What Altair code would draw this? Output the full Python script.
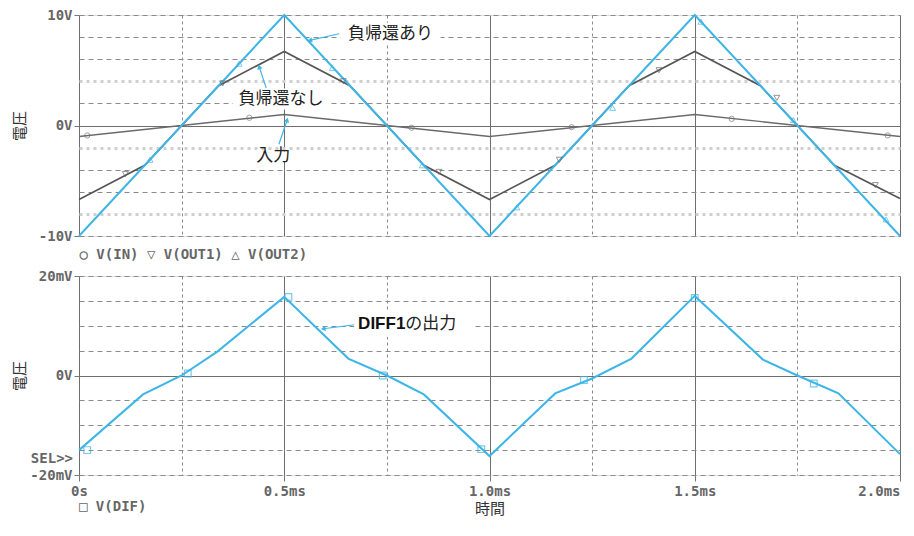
import math
import altair as alt
import pandas as pd

CYAN = "#3db5e6"
DARK = "#555555"
MONO = "DejaVu Sans Mono"
JP = "Noto Sans CJK JP"

# ---------------- data ----------------
# time in ms
t_in = [0, 0.5, 1.0, 1.5, 2.0]
v_in = [-1.0, 1.0, -1.0, 1.0, -1.0]                      # V(IN)  [V]

t_out1 = [0, 0.16, 0.34, 0.5, 0.66, 0.84, 1.0, 1.16, 1.34, 1.5, 1.66, 1.84, 2.0]
v_out1 = [-6.7, -3.6, 3.6, 6.7, 3.6, -3.6, -6.7, -3.6, 3.6, 6.7, 3.6, -3.6, -6.6]   # V(OUT1)

t_out2 = [0, 0.5, 1.0, 1.5, 2.0]
v_out2 = [-10.0, 10.0, -10.0, 10.0, -10.0]               # V(OUT2)

t_dif = [0, 0.156, 0.25, 0.337, 0.5, 0.656, 0.75, 0.84, 1.0, 1.16, 1.25, 1.346, 1.5, 1.666, 1.75, 1.85, 2.0]
v_dif = [-15.0, -3.8, 0.0, 4.8, 15.8, 3.4, 0.0, -3.8, -16.2, -3.6, -0.6, 3.4, 16.0, 3.2, 0.0, -3.6, -15.8]  # mV

# marker positions
mk_in_t = [0.02, 0.415, 0.81, 1.2, 1.59, 1.97]
mk_in_v = [-0.9, 0.7, -0.2, -0.15, 0.6, -0.9]
mk_o1_t = [0.113, 0.35, 0.644, 0.877, 1.17, 1.413, 1.70, 1.94]
mk_o1_v = [-4.4, 3.8, 4.0, -4.2, -3.1, 5.0, 2.5, -5.4]
mk_o2_t = [0.173, 0.39, 0.617, 0.836, 1.067, 1.30, 1.515, 1.74, 1.966]
mk_o2_v = [-3.1, 5.6, 5.2, -3.6, -7.4, 1.6, 9.4, 0.5, -8.5]
mk_dif_t = [0.02, 0.265, 0.51, 0.74, 0.98, 1.23, 1.5, 1.79]
mk_dif_v = [-15.0, 0.4, 15.8, 0.0, -14.8, -0.9, 15.6, -1.6]

# axis ticks
x_ticks = [0, 0.25, 0.5, 0.75, 1.0, 1.25, 1.5, 1.75, 2.0]
y_top_ticks = [-10, -8, -6, -4, -2, 0, 2, 4, 6, 8, 10]
y_bot_ticks = [-20, -15, -10, -5, 0, 5, 10, 15, 20]

# annotations (label centres and arrows, in data units)
top_labels = ["負帰還あり", "負帰還なし", "入力"]
top_label_t = [0.759, 0.492, 0.473]
top_label_v = [8.3, 2.4, -2.8]
top_label_w = [100, 96, 44]        # white box widths behind labels (px)
top_arrow_t1 = [0.634, 0.456, 0.487]
top_arrow_v1 = [8.3, 3.4, -1.7]
top_arrow_t2 = [0.562, 0.439, 0.507]
top_arrow_v2 = [7.7, 5.3, 0.5]

bot_label_t = [0.795]
bot_label_v = [10.4]
bot_box_t = [0.814]
bot_arrow_t1 = [0.672]
bot_arrow_v1 = [10.2]
bot_arrow_t2 = [0.595]
bot_arrow_v2 = [9.4]

W = 821
H_TOP = 221
H_BOT = 199
LBL = 14   # monospace label size

# ---------------- axes ----------------
grid_x_dash = {"condition": {"test": "(datum.value*4) % 2 == 1", "value": [3, 3]}, "value": []}
grid_x_color = {"condition": {"test": "(datum.value*4) % 2 == 1", "value": "#8a8a8a"}, "value": "#6e6e6e"}


def y_axis(ticks, label_expr, major, dotted):
    return alt.Axis(
        values=ticks, labelExpr=label_expr, grid=True,
        gridDash={"condition": [{"test": "datum.value == 0", "value": []},
                                {"test": "indexof(%s, datum.value) >= 0" % dotted, "value": [3, 4]}],
                  "value": [5, 4]},
        gridColor={"condition": [{"test": "datum.value == 0", "value": "#6e6e6e"},
                                 {"test": "indexof(%s, datum.value) >= 0" % dotted, "value": "#cfcfcf"}],
                   "value": "#8a8a8a"},
        gridWidth={"condition": [{"test": "indexof(%s, datum.value) >= 0" % dotted, "value": 3}],
                   "value": 1},
        tickOpacity={"condition": {"test": "datum.value %% %d != 0" % major, "value": 0}, "value": 1},
        tickSize=5, tickColor="#777", domain=False,
        labelFont=MONO, labelFontWeight="bold", labelFontSize=LBL, labelColor="#666", labelPadding=2,
        title="電圧", titleFont=JP, titleFontSize=15, titleFontWeight="normal", titleColor="#333",
        titlePadding=3, minExtent=49, maxExtent=49,
    )


x_top = alt.X("t:Q", scale=alt.Scale(domain=[0, 2], nice=False, zero=False),
              axis=alt.Axis(values=x_ticks, grid=True, gridDash=grid_x_dash, gridColor=grid_x_color,
                            labels=False, ticks=False, domain=False,
                            title="○ V(IN)   ▽ V(OUT1)   △ V(OUT2)", titleAnchor="start", titleAlign="left",
                            titleX=0, titleY=18, titleBaseline="middle", titleFont=MONO,
                            titleFontWeight="bold", titleFontSize=LBL, titleColor="#666"))
y_top = alt.Y("v:Q", scale=alt.Scale(domain=[-10, 10], nice=False),
              axis=y_axis(y_top_ticks, "datum.value % 10 == 0 ? (datum.value == 0 ? '0V' : datum.value + 'V') : ''",
                          10, "[4, -2, -8]"))

x_bot = alt.X("t:Q", scale=alt.Scale(domain=[0, 2], nice=False, zero=False),
              axis=alt.Axis(values=x_ticks, grid=True, gridDash=grid_x_dash, gridColor=grid_x_color,
                            labelExpr="(datum.value*2) % 1 != 0 ? '' : (datum.value == 0 ? '0s' : format(datum.value, '.1f') + 'ms')",
                            labelAlign={"condition": {"test": "datum.value == 2", "value": "right"}, "value": "center"},
                            labelFlush=False,
                            tickOpacity={"condition": {"test": "(datum.value*2) % 1 != 0", "value": 0}, "value": 1},
                            tickSize=6, tickColor="#777", domain=False,
                            labelFont=MONO, labelFontWeight="bold", labelFontSize=LBL, labelColor="#666",
                            labelPadding=3,
                            title="時間", titleFont=JP, titleFontSize=15, titleFontWeight="normal",
                            titleColor="#333", titlePadding=3))
y_bot = alt.Y("v:Q", scale=alt.Scale(domain=[-20, 20], nice=False),
              axis=y_axis(y_bot_ticks, "datum.value % 20 == 0 ? (datum.value == 0 ? '0V' : datum.value + 'mV') : ''",
                          20, "[99]"))


def df(t, v):
    return pd.DataFrame({"t": t, "v": v})


def arrow_angle(dt, dv, px_t, px_v):
    dx = dt * px_t
    dy = -dv * px_v
    return (math.degrees(math.atan2(dx, -dy)) + 360) % 360


def arrows(t1, v1, t2, v2, x, y, px_t, px_v):
    d = pd.DataFrame({"t": t1, "v": v1, "t2": t2, "v2": v2})
    rule = alt.Chart(d).mark_rule(color=CYAN, strokeWidth=1.2).encode(x=x, y=y, x2="t2:Q", y2="v2:Q")
    h = pd.DataFrame({"t": t2, "v": v2})
    h["ang"] = [arrow_angle(b - a, d2 - c, px_t, px_v) for a, b, c, d2 in zip(t1, t2, v1, v2)]
    head = alt.Chart(h).mark_point(shape="triangle-up", filled=True, color=CYAN, size=30, opacity=1).encode(
        x=x, y=y, angle=alt.Angle("ang:Q", scale=None))
    return rule + head


def box(d, width):
    # white rectangle behind a label, drawn as a custom symbol (2:0.44 box scaled by size)
    return alt.Chart(d).mark_point(shape="M-1,-0.22H1V0.22H-1Z", filled=True, color="white", opacity=1,
                                   size=width * width, strokeWidth=0)


px_t = W / 2.0

# ---------------- top panel ----------------
line_in = alt.Chart(df(t_in, v_in)).mark_line(color="#6a6a6a", strokeWidth=1.4).encode(x=x_top, y=y_top)
line_o1 = alt.Chart(df(t_out1, v_out1)).mark_line(color=DARK, strokeWidth=1.6).encode(x=x_top, y=y_top)
line_o2 = alt.Chart(df(t_out2, v_out2)).mark_line(color=CYAN, strokeWidth=2).encode(x=x_top, y=y_top)
pt_in = alt.Chart(df(mk_in_t, mk_in_v)).mark_point(shape="circle", color="#777", size=28, strokeWidth=1).encode(x=x_top, y=y_top)
pt_o1 = alt.Chart(df(mk_o1_t, mk_o1_v)).mark_point(shape="triangle-down", color="#666", size=35, strokeWidth=1).encode(x=x_top, y=y_top)
pt_o2 = alt.Chart(df(mk_o2_t, mk_o2_v)).mark_point(shape="triangle-up", color=CYAN, size=35, strokeWidth=1).encode(x=x_top, y=y_top)

lab_top = pd.DataFrame({"t": top_label_t, "v": top_label_v, "txt": top_labels, "w": top_label_w})
top_boxes = alt.layer(*[
    box(lab_top.iloc[[i]], top_label_w[i]).encode(x=x_top, y=y_top) for i in range(len(top_labels))
])
top_text = alt.Chart(lab_top).mark_text(font=JP, fontSize=17, baseline="middle", align="center",
                                        color="#222").encode(x=x_top, y=y_top, text="txt:N")
top_arrows = arrows(top_arrow_t1, top_arrow_v1, top_arrow_t2, top_arrow_v2, x_top, y_top, px_t, H_TOP / 20.0)

top = alt.layer(line_in, line_o1, line_o2, pt_in, pt_o1, pt_o2, top_arrows, top_boxes, top_text).properties(
    width=W, height=H_TOP)

# ---------------- bottom panel ----------------
line_dif = alt.Chart(df(t_dif, v_dif)).mark_line(color=CYAN, strokeWidth=2).encode(x=x_bot, y=y_bot)
pt_dif = alt.Chart(df(mk_dif_t, mk_dif_v)).mark_point(shape="square", color=CYAN, size=45, strokeWidth=1.2).encode(x=x_bot, y=y_bot)
lab_bot = pd.DataFrame({"t": bot_label_t, "v": bot_label_v})
bot_box = box(df(bot_box_t, bot_label_v), 118).encode(x=x_bot, y=y_bot)
bot_text = (
    alt.Chart(lab_bot).mark_text(align="right", text="DIFF1", font="Liberation Sans", fontSize=17,
                                 baseline="middle", fontWeight="bold", color="#111").encode(x=x_bot, y=y_bot)
    + alt.Chart(lab_bot).mark_text(align="left", text="の出力", font=JP, fontSize=17,
                                   baseline="middle", color="#222").encode(x=x_bot, y=y_bot)
)
bot_arrows = arrows(bot_arrow_t1, bot_arrow_v1, bot_arrow_t2, bot_arrow_v2, x_bot, y_bot, px_t, H_BOT / 40.0)

one = pd.DataFrame({"k": [0]})
sel = alt.Chart(one).mark_text(text="SEL>>", align="right", baseline="middle", font=MONO, fontWeight="bold",
                               fontSize=LBL, color="#666").encode(x=alt.value(-6), y=alt.value(183))
leg_dif = alt.Chart(one).mark_text(text="□ V(DIF)", align="left", baseline="middle", font=MONO, fontWeight="bold",
                                   fontSize=LBL, color="#666").encode(x=alt.value(0), y=alt.value(H_BOT + 32))

bottom = alt.layer(line_dif, pt_dif, bot_arrows, bot_box, bot_text, sel, leg_dif).properties(width=W, height=H_BOT)

chart = alt.vconcat(top, bottom, spacing=6).properties(
    padding={"left": 3, "top": -1, "right": 0, "bottom": 0}
).configure_view(stroke="#8a8a8a", strokeWidth=1.5).configure(background="white")

chart.save("out.html", embed_options={"renderer": "svg", "actions": False})
